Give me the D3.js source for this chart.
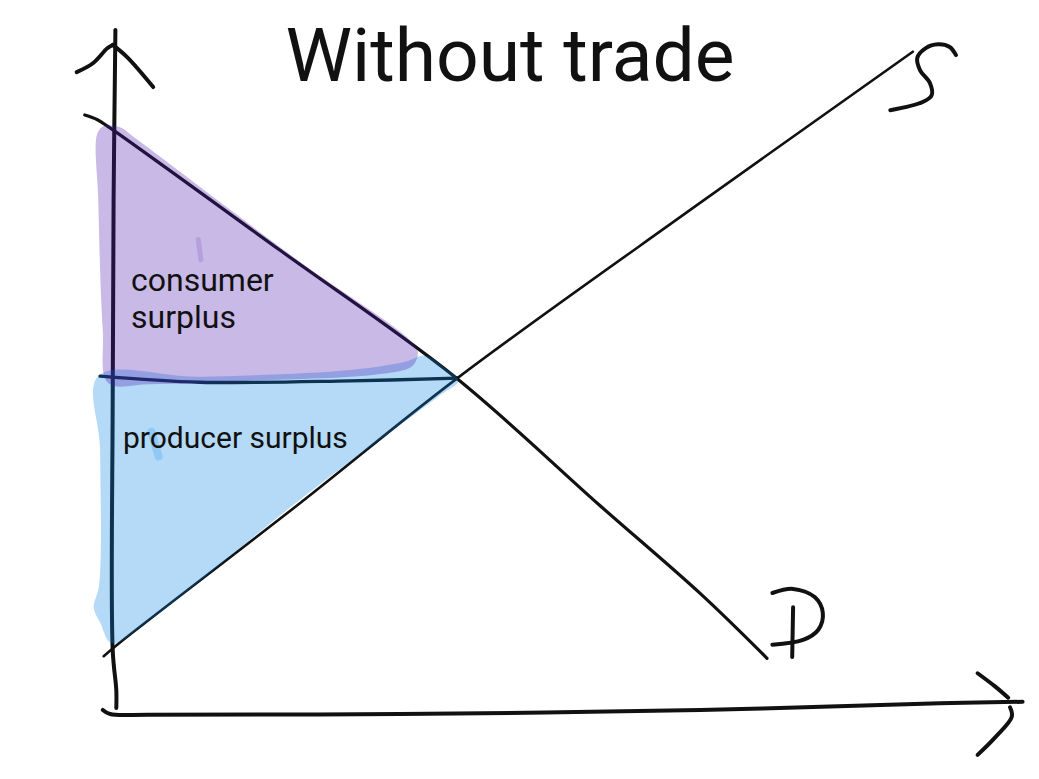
<!DOCTYPE html>
<html><head><meta charset="utf-8">
<script src="https://cdn.jsdelivr.net/npm/d3@7"></script>
<style>html,body{margin:0;padding:0;background:#fff;}svg{display:block;}</style>
</head><body>
<svg id="c" width="1039" height="779"></svg>
<script>
// ---- data (quantity 0..100, price 0..100, hand-sketched) ----
const title = "Without trade";
const consumerLabel = ["consumer", "surplus"];
const producerLabel = "producer surplus";
const supplyLabel = "S";
const demandLabel = "D";
const demand = [[-2.8,87.8],[-1.4,87.1],[0,85.9],[18.9,67.9],[38.3,49.3],[54.4,30.4],[65.6,17.4],[73,7.9]];
const supply = [[-0.7,8.2],[0.8,9.9],[21.1,30.7],[38.6,49.1],[65.6,74.9],[89.2,97.1]];
const priceLine = [[-1.1,49.4],[10,48.5],[26.7,48.7],[38.6,49.1]];
const yAxisLine = [[0.6,100.3],[0.4,75.3],[0.3,45.9],[0.3,9.1],[0.7,3.2],[0.7,0.6]];
const yArrowL = [[-3.7,94.1],[-1.9,95.4],[-0.3,97.6],[0.3,98.1]];
const yArrowR = [[0.3,98.1],[1.9,96.3],[4.8,91.9]];
const xAxisLine = [[-0.8,0.3],[0,-0.3],[4.4,-0.4],[32.2,-0.3],[65.6,0.3],[92.2,1.3],[101.4,1.5]];
const xArrowU = [[96.4,5.7],[98.3,3.8],[99.8,2.1]];
const xArrowL = [[100,0.7],[100.2,-0.7],[98.3,-3.8],[96.4,-6.3]];
const sLetter = [[94,96.6],[93.3,97.8],[92,98.2],[90.6,97.6],[89.7,96.2],[90,94.4],[91.1,92.5],[91.3,90.7],[90.3,89.7],[86.7,88.5]];
const dBowl = [[73.6,17.5],[75.9,18.1],[78.3,16.9],[79.2,14.6],[78.7,12.1],[77,10.6],[73.6,9.9]];
const dStem = [[75.9,15.4],[75.8,8.1]];
const consumerArea = [[-1.4,85.1],[-0.6,86.2],[1.1,86.0],[2.8,84.4],[21.1,66.2],[33.3,54.7],[34.2,52.9],[33.6,50.9],[30,49.7],[15.6,48.7],[4.4,48.2],[-0.2,48.4],[-0.8,56.2],[-1.3,75.3]];
const producerArea = [[-1.3,49.4],[10,49.3],[26.7,50.3],[32.8,51.5],[35,52.4],[37.2,50.6],[38.7,48.7],[36.7,46.6],[21.1,31.2],[4.4,13.5],[0.2,10.1],[-1.1,13.2],[-1.8,15.3],[-1.2,18.7],[-1.1,38.5]];
const consumerStreak = [[9.8,69.5],[10.1,66.5]];
const producerStreak = [[4.6,41.2],[5.4,37.6]];

// ---- scales ----
const x = d3.scaleLinear().domain([0,100]).range([110,1010]);
const y = d3.scaleLinear().domain([0,100]).range([712,32]);
const svg = d3.select("#c");
const line = d3.line().x(d=>x(d[0])).y(d=>y(d[1])).curve(d3.curveCatmullRom.alpha(0.5));
const area = d3.line().x(d=>x(d[0])).y(d=>y(d[1])).curve(d3.curveCatmullRomClosed.alpha(0.5));

const ink = "#111";
function stroke(data, w){
  svg.append("path").attr("d", line(data)).attr("fill","none")
    .attr("stroke", ink).attr("stroke-width", w)
    .attr("stroke-linecap","round").attr("stroke-linejoin","round");
}
// axes
stroke(yAxisLine, 4); stroke(yArrowL, 4); stroke(yArrowR, 4);
stroke(xAxisLine, 4); stroke(xArrowU, 4); stroke(xArrowL, 4);
// curves
stroke(demand, 3.2); stroke(supply, 2.6); stroke(priceLine, 3.4);
// letters
stroke(sLetter, 4); stroke(dBowl, 4); stroke(dStem, 4);

// highlighter fills (semi-transparent over ink)
svg.append("path").attr("d", area(producerArea)).attr("fill","rgb(5,132,232)").attr("fill-opacity",0.3);
svg.append("path").attr("d", area(consumerArea)).attr("fill","rgb(72,22,172)").attr("fill-opacity",0.3);
svg.append("path").attr("d", line(consumerStreak)).attr("stroke","rgb(72,22,172)").attr("stroke-opacity",0.15).attr("stroke-width",5).attr("stroke-linecap","round");
svg.append("path").attr("d", line(producerStreak)).attr("stroke","rgb(5,132,232)").attr("stroke-opacity",0.2).attr("stroke-width",8).attr("stroke-linecap","round");

// texts
const font = "Roboto, 'Noto Sans', sans-serif";
svg.append("text").attr("x", 510).attr("y", 81).attr("text-anchor","middle")
  .attr("font-family", font).attr("font-size", 75).attr("fill","#111").text(title);
svg.append("text").attr("x", 131).attr("y", 291).attr("font-family", font).attr("font-size", 32).attr("fill","#111").text(consumerLabel[0]);
svg.append("text").attr("x", 131).attr("y", 328).attr("font-family", font).attr("font-size", 32).attr("fill","#111").text(consumerLabel[1]);
svg.append("text").attr("x", 123).attr("y", 448).attr("font-family", font).attr("font-size", 30).attr("fill","#111").text(producerLabel);
// hidden semantic labels for the hand-drawn S / D glyphs
svg.append("title").text(supplyLabel + " / " + demandLabel);
</script>
</body></html>
